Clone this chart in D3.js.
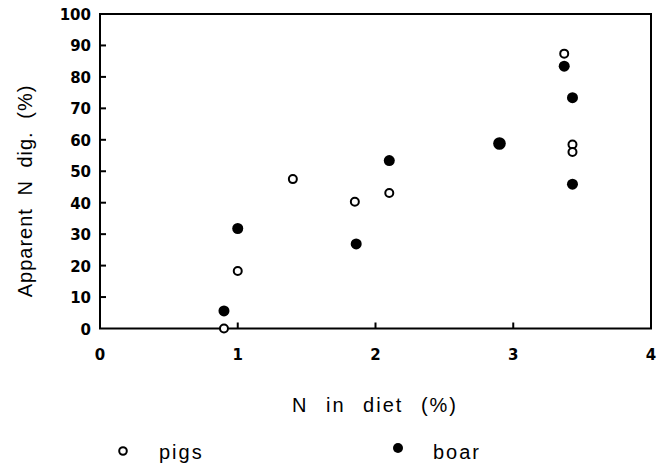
<!DOCTYPE html>
<html lang="en">
<head>
    <meta charset="UTF-8">
    <title>Apparent N digestibility</title>
    <script src="https://d3js.org/d3.v7.min.js"></script>
    <style>
        body { margin: 0; background: #fff; }
        svg { display: block; font-family: "Liberation Sans", Arial, sans-serif; }
        .tick-label { font-family: "DejaVu Sans", sans-serif; font-size: 15px; font-weight: bold; fill: #000; }
        .title { font-size: 20px; letter-spacing: 2px; word-spacing: 10px; fill: #000; }
        .frame { fill: none; stroke: #000; stroke-width: 2; }
        .pig { fill: #fff; stroke: #000; stroke-width: 2; }
        .boar { fill: #000; }
    </style>
</head>
<body>
<script>
    const width = 658;
    const height = 471;

    // N in diet (%) vs apparent N digestibility (%)
    const pigsX = [0.9, 1.0, 1.4, 1.85, 2.1, 3.37, 3.43, 3.43];
    const pigsY = [0, 18.3, 47.5, 40.3, 43.1, 87.4, 58.5, 56.1];
    const boarX = [0.9, 1.0, 1.86, 2.1, 2.9, 3.37, 3.43, 3.43];
    const boarY = [5.6, 31.8, 26.9, 53.4, 58.8, 83.4, 73.4, 45.9];

    const xTicks = [0, 1, 2, 3, 4];
    const yTicks = [0, 10, 20, 30, 40, 50, 60, 70, 80, 90, 100];

    const svg = d3.select("body").append("svg")
        .attr("width", width).attr("height", height);

    const x = d3.scaleLinear().domain([0, 4]).range([100, 651]);
    const y = d3.scaleLinear().domain([0, 100]).range([328.5, 14]);

    // frame
    svg.append("rect").attr("class", "frame")
        .attr("x", x(0)).attr("y", y(100))
        .attr("width", x(4) - x(0)).attr("height", y(0) - y(100));

    // y ticks (inward)
    svg.selectAll("line.ytick").data(yTicks.slice(1, -1)).enter()
        .append("line").attr("class", "ytick")
        .attr("x1", x(0)).attr("x2", x(0) + 6)
        .attr("y1", d => y(d)).attr("y2", d => y(d))
        .attr("stroke", "#000").attr("stroke-width", 2);

    svg.selectAll("text.ylab").data(yTicks).enter()
        .append("text").attr("class", "tick-label ylab")
        .attr("x", x(0) - 9).attr("y", d => y(d) + 6)
        .attr("text-anchor", "end")
        .text(d => d);

    // x ticks (inward)
    svg.selectAll("line.xtick").data(xTicks.slice(1, -1)).enter()
        .append("line").attr("class", "xtick")
        .attr("x1", d => x(d)).attr("x2", d => x(d))
        .attr("y1", y(0)).attr("y2", y(0) - 6)
        .attr("stroke", "#000").attr("stroke-width", 2);

    svg.selectAll("text.xlab").data(xTicks).enter()
        .append("text").attr("class", "tick-label xlab")
        .attr("x", d => x(d)).attr("y", 360)
        .attr("text-anchor", "middle")
        .text(d => d);

    // axis titles
    svg.append("text").attr("class", "title")
        .attr("x", 375).attr("y", 412)
        .attr("text-anchor", "middle")
        .text("N in diet (%)");

    svg.append("text").attr("class", "title")
        .attr("transform", "translate(32,191) rotate(-90)")
        .attr("text-anchor", "middle")
        .style("font-size", "20px")
        .style("letter-spacing", "1px")
        .style("word-spacing", "6px")
        .text("Apparent N dig. (%)");

    // points
    const pigs = pigsX.map((v, i) => ({x: v, y: pigsY[i]}));
    const boar = boarX.map((v, i) => ({x: v, y: boarY[i]}));

    svg.selectAll("circle.boar").data(boar).enter()
        .append("circle").attr("class", "boar")
        .attr("cx", d => x(d.x)).attr("cy", d => y(d.y))
        .attr("r", d => d.x === 2.9 ? 6.3 : 5.5);

    svg.selectAll("circle.pig").data(pigs).enter()
        .append("circle").attr("class", "pig")
        .attr("cx", d => x(d.x)).attr("cy", d => y(d.y))
        .attr("r", 4);

    // legend
    svg.append("circle").attr("class", "pig").attr("cx", 123).attr("cy", 451).attr("r", 3.8);
    svg.append("text").attr("class", "title").attr("x", 159).attr("y", 459).text("pigs");
    svg.append("circle").attr("class", "boar").attr("cx", 398).attr("cy", 448).attr("r", 5);
    svg.append("text").attr("class", "title").attr("x", 433).attr("y", 459).text("boar");
</script>
</body>
</html>
